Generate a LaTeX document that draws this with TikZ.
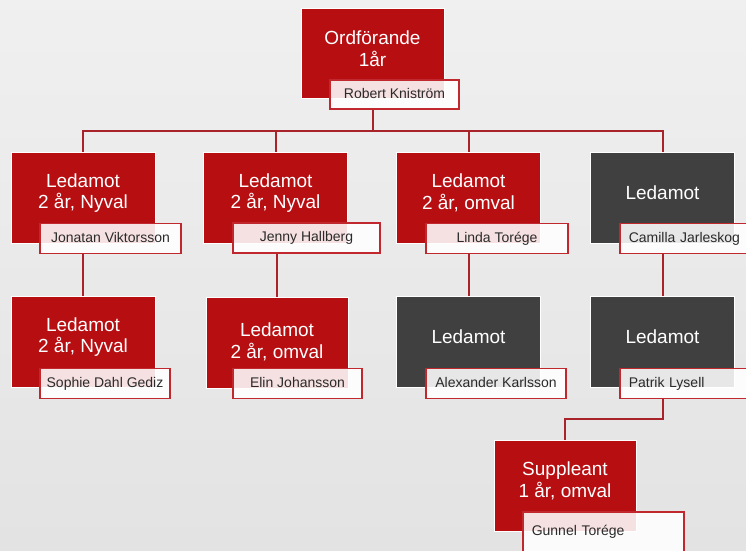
\documentclass[tikz,border=0pt]{standalone}
\usepackage{fontspec}
\setmainfont{Liberation Sans}
\definecolor{boxred}{HTML}{B70E12}
\definecolor{boxgray}{HTML}{404040}
\definecolor{linered}{HTML}{A8232A}
\definecolor{labred}{HTML}{C0282D}
\definecolor{labtext}{HTML}{2A2A2A}
\pgfdeclarelayer{bg}
\pgfsetlayers{bg,main}
\begin{document}
\begin{tikzpicture}[x=1pt,y=-1pt,
 box/.style={rectangle, draw=white, line width=0.8pt, minimum width=144pt, minimum height=91pt, inner sep=0pt},
 redbox/.style={box, fill=boxred},
 graybox/.style={box, fill=boxgray},
 title/.style={text=white, font=\fontsize{19}{21.5}\selectfont, align=center, inner sep=0pt},
 lab/.style={rectangle, draw=labred, line width=1.5pt, fill=white, fill opacity=0.88, text opacity=1, text=labtext, font=\fontsize{14}{16}\selectfont, minimum height=30pt, inner ysep=0pt, inner xsep=0pt, text height=10pt, text depth=3pt},
 labl/.style={lab, align=left, inner xsep=9pt, anchor=west},
 conn/.style={draw=linered, line width=2pt}]
\useasboundingbox (0,0) rectangle (746,550);
\clip (0,0) rectangle (746,550);
% boxes
\node[redbox, minimum width=143pt, minimum height=90pt] (b0) at (372.5,53) {};
\node[redbox] (b1) at (83,197.5) {};
\node[redbox] (b2) at (275.5,197.5) {};
\node[redbox] (b3) at (468.5,197.5) {};
\node[graybox] (b4) at (662.5,197.5) {};
\node[redbox] (b5) at (83,342) {};
\node[redbox, minimum width=142pt] (b6) at (277,342.5) {};
\node[graybox] (b7) at (468.5,342) {};
\node[graybox] (b8) at (662.5,342) {};
\node[redbox, minimum width=142pt] (b9) at (565,486) {};
% titles
\node[title] (t0) at (372.5,48.5) {Ordförande\\1år};
\node[title] (t1) at (83,193) {Ledamot\\2 år, Nyval};
\node[title] (t2) at (275.5,193) {Ledamot\\2 år, Nyval};
\node[title] (t3) at (468.5,193) {Ledamot\\2 år, omval};
\node[title] (t4) at (662.5,193) {Ledamot};
\node[title] (t5) at (83,337) {Ledamot\\2 år, Nyval};
\node[title] (t6) at (277,342) {Ledamot\\2 år, omval};
\node[title] (t7) at (468.5,337) {Ledamot};
\node[title] (t8) at (662.5,337) {Ledamot};
\node[title] (t9) at (565,481) {Suppleant\\1 år, omval};
% labels
\node[lab, minimum width=129pt, minimum height=29pt] (l0) at (394.5,94.5) {Robert Kniström};
\node[lab, minimum width=141pt] (l1) at (110.5,238.5) {Jonatan Viktorsson};
\node[lab, minimum width=147pt] (l2) at (306.5,238) {Jenny Hallberg};
\node[lab, minimum width=142pt] (l3) at (497,238.5) {Linda Torége};
\node[labl, text width=123pt] (l4) at (619,238.5) {Camilla Jarleskog};
\node[lab, minimum width=130pt] (l5) at (105,383.5) {Sophie Dahl Gediz};
\node[lab, minimum width=129pt] (l6) at (297.5,383.5) {Elin Johansson};
\node[lab, minimum width=140pt] (l7) at (496,383.5) {Alexander Karlsson};
\node[labl, text width=123pt] (l8) at (619,383.5) {Patrik Lysell};
\node[labl, text width=143pt, minimum height=40pt] (l9) at (522,532) {Gunnel Torége};
% connectors and background
\coordinate (bus) at (0,131);
\coordinate (sbus) at (0,419);
\begin{pgfonlayer}{bg}
\fill[top color=white!94!black, bottom color=white!89!black] (0,0) rectangle (746,550);
\draw[conn] (b0.center |- l0.south) -- (b0.center |- bus);
\draw[conn] (b1.north) -- (b1.north |- bus) -- (b4.north |- bus) -- (b4.north);
\draw[conn] (b2.north) -- (b2.north |- bus);
\draw[conn] (b3.north) -- (b3.north |- bus);
\draw[conn] (b5.north |- l1.south) -- (b5.north);
\draw[conn] (b6.north |- l2.south) -- (b6.north);
\draw[conn] (b7.north |- l3.south) -- (b7.north);
\draw[conn] (b8.north |- l8.south) -- (b8.north |- sbus) -| (b9.north);
\draw[conn] (b8.north |- l4.south) -- (b8.north);
\end{pgfonlayer}
\end{tikzpicture}
\end{document}
